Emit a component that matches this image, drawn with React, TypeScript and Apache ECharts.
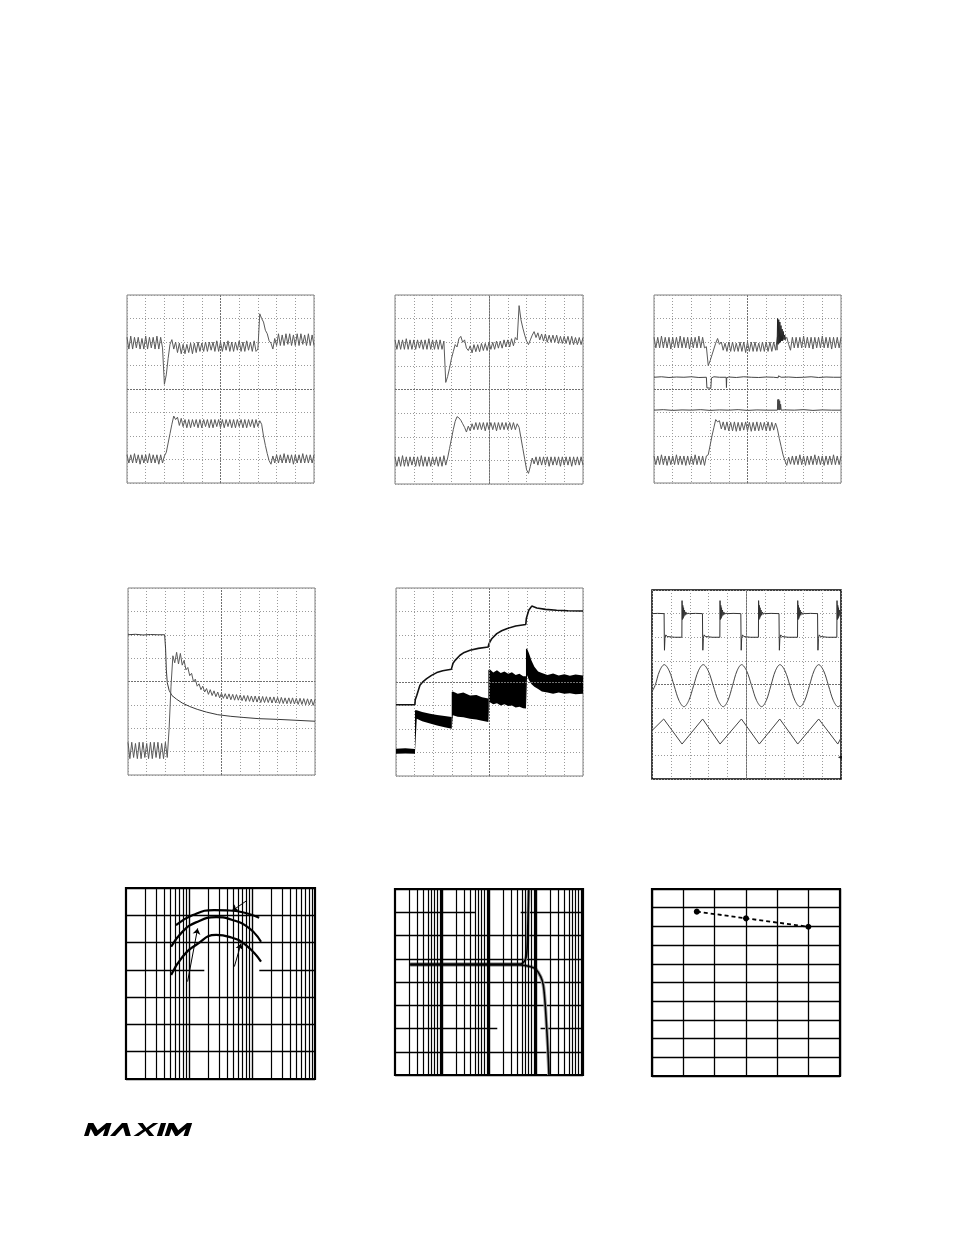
import React, { useEffect, useRef } from "react";
import * as echarts from "echarts";

// ---------- Panel 1 (scope: two rippled traces) ----------
const P1_TOP = [
  6.2,5.7,6.25,5.7,6.2,5.75,6.2,5.7,6.15,5.7,6.25,5.7,6.2,5.75,6.2,5.7,6.25,5.7,6.2,5.75,
  4.2,4.6,5.3,5.9,6.1,5.7,6.0,5.55,5.95,5.5,
  5.9,5.5,5.9,5.55,5.95,5.5,5.95,5.55,6.0,5.6,
  5.95,5.6,6.0,5.6,6.0,5.65,6.0,5.6,6.05,5.6,
  6.0,5.6,6.0,5.65,6.05,5.6,6.0,5.6,6.0,5.65,
  6.05,5.6,6.0,5.6,6.05,5.65,6.0,5.6,6.05,5.6,
  5.7,7.2,7.0,6.85,6.5,6.35,6.05,5.95,5.7,6.15,
  5.85,6.35,5.85,6.3,5.85,6.35,5.9,6.35,5.85,6.3,
  5.85,6.35,5.85,6.35,5.9,6.3,5.85,6.35,5.85,6.3,5.85,
];
const P1_BOT = [
  1.2,0.85,1.2,0.85,1.25,0.85,1.2,0.8,1.2,0.85,1.2,0.85,1.25,0.85,1.2,0.85,1.2,0.8,1.2,0.85,
  1.15,1.3,1.7,2.1,2.5,2.85,2.7,2.8,2.45,2.75,
  2.4,2.7,2.35,2.7,2.35,2.7,2.4,2.7,2.35,2.7,
  2.35,2.7,2.4,2.7,2.35,2.7,2.35,2.7,2.4,2.7,
  2.35,2.7,2.35,2.7,2.4,2.7,2.35,2.7,2.35,2.7,
  2.4,2.7,2.35,2.7,2.35,2.7,2.4,2.7,2.35,2.7,
  2.4,2.65,2.5,2.0,1.6,1.25,0.95,0.8,1.15,0.85,
  1.2,0.85,1.2,0.85,1.25,0.85,1.2,0.85,1.2,0.8,
  1.2,0.85,1.2,0.85,1.25,0.85,1.2,0.85,1.2,0.85,1.2,
];

// ---------- Panel 2 ----------
const P2_TOP = [
  6.1,5.7,6.1,5.7,6.1,5.7,6.15,5.7,6.1,5.7,6.1,5.7,6.1,5.75,6.1,5.7,6.1,5.7,6.15,5.7,6.1,5.7,6.1,5.7,6.1,5.7,6.05,
  4.3,4.55,4.9,5.3,5.6,5.9,5.8,6.15,6.25,6.0,6.1,5.75,5.65,
  5.85,5.55,5.9,5.6,5.9,5.6,5.95,5.65,5.95,5.65,
  6.0,5.7,6.0,5.7,6.05,5.75,6.05,5.75,6.1,5.8,
  6.1,5.8,6.15,5.85,6.2,6.1,
  7.55,6.95,6.6,6.3,6.05,5.9,6.1,6.3,6.45,6.2,6.4,6.1,
  6.35,6.05,6.35,6.0,6.3,6.0,6.3,6.0,6.3,5.95,6.25,5.95,
  6.25,5.95,6.25,5.9,6.25,5.9,6.2,5.9,6.2,5.9,6.2,
];
const P2_BOT = [
  1.15,0.75,1.15,0.75,1.2,0.75,1.15,0.75,1.15,0.8,1.15,0.75,1.15,0.75,1.2,0.75,1.15,0.75,1.15,0.75,1.15,0.8,1.15,0.75,1.15,0.75,1.2,0.8,
  1.1,1.5,1.9,2.3,2.65,2.85,2.8,2.7,2.55,2.4,2.2,2.45,
  2.25,2.55,2.3,2.6,2.3,2.6,2.3,2.6,2.25,2.6,
  2.3,2.6,2.3,2.6,2.25,2.6,2.3,2.6,2.3,2.6,
  2.3,2.6,2.3,2.6,2.3,2.55,
  2.4,1.95,1.5,1.05,0.6,0.45,0.75,1.1,0.85,1.15,0.8,1.15,
  0.8,1.15,0.8,1.15,0.75,1.15,0.8,1.15,0.8,1.15,0.75,1.15,
  0.8,1.15,0.8,1.15,0.75,1.15,0.8,1.15,0.8,1.15,0.8,
];

// ---------- Panel 3 ----------
const P3_TOP = [
  6.2,5.75,6.2,5.75,6.25,5.75,6.2,5.75,6.2,5.7,6.2,5.75,6.2,5.75,6.25,5.75,6.2,5.75,6.2,5.7,6.2,5.75,6.2,5.75,6.25,5.75,6.2,5.75,
  5.8,5.0,5.2,5.45,5.7,5.95,6.15,5.9,6.0,5.65,5.95,5.6,
  6.0,5.6,6.0,5.6,5.95,5.6,6.0,5.6,6.0,5.55,
  6.0,5.6,6.0,5.6,6.0,5.6,5.95,5.6,6.0,5.6,
  6.0,5.6,6.0,5.6,6.0,5.65,
  6.2,6.3,6.2,6.2,6.1,6.2,5.9,5.65,6.2,5.75,
  6.2,5.75,6.2,5.75,6.25,5.75,6.2,5.75,6.2,5.7,6.2,5.75,
  6.2,5.75,6.25,5.75,6.2,5.75,6.2,5.7,6.2,5.75,6.2,5.75,6.2,
];
const P3_BURST = [
  [65.8,5.65],[66.1,7.0],[66.4,5.9],[66.7,6.95],[67.0,5.95],[67.3,6.85],[67.6,6.0],[67.9,6.7],
  [68.2,6.05],[68.5,6.55],[68.8,6.05],[69.1,6.45],[69.5,6.1],[69.9,6.3],[70.3,6.1],
];
const P3_MID1 = [
  [0,4.5],[4,4.52],[8,4.49],[12,4.51],[16,4.5],[20,4.52],[24,4.49],[28.0,4.5],[28.3,4.05],[30.4,4.03],
  [30.7,4.47],[32,4.52],[35,4.5],[38.6,4.5],[38.75,4.06],[38.9,4.48],[40,4.51],[44,4.49],[48,4.52],
  [52,4.5],[56,4.49],[60,4.51],[64,4.5],[66.4,4.48],[66.6,4.56],[68,4.5],[72,4.51],[76,4.49],[80,4.5],
  [84,4.52],[88,4.49],[92,4.51],[96,4.5],[100,4.5],
];
const P3_MID2 = [
  [0,3.1],[5,3.12],[10,3.09],[15,3.11],[20,3.1],[25,3.12],[30,3.09],[35,3.11],[40,3.1],[45,3.12],
  [50,3.09],[55,3.11],[60,3.1],[66,3.1],[66.2,3.55],[66.45,3.12],[66.7,3.56],[66.95,3.1],[67.2,3.5],
  [67.45,3.12],[67.7,3.35],[68,3.1],[70,3.11],[75,3.1],[80,3.12],[85,3.09],[90,3.11],[95,3.1],[100,3.1],
];
const P3_BOT = [
  1.15,0.78,1.15,0.78,1.2,0.78,1.15,0.75,1.15,0.78,1.15,0.78,1.2,0.78,1.15,0.78,1.15,0.75,1.15,0.78,1.15,0.78,1.2,0.78,1.15,0.78,1.15,0.75,1.15,
  1.2,1.6,2.0,2.35,2.7,2.6,2.65,2.3,2.6,2.25,2.6,
  2.22,2.58,2.22,2.6,2.2,2.58,2.22,2.58,2.25,2.6,
  2.22,2.58,2.2,2.58,2.22,2.6,2.22,2.58,2.25,2.58,
  2.22,2.6,2.22,2.58,2.25,2.55,
  2.3,1.9,1.55,1.2,0.95,0.75,1.1,0.8,1.15,0.78,
  1.15,0.78,1.2,0.78,1.15,0.75,1.15,0.78,1.15,0.78,1.2,0.78,
  1.15,0.78,1.15,0.75,1.15,0.78,1.15,0.78,1.2,0.78,1.15,0.78,1.15,
];

// ---------- Panel 4 ----------
const P4_A = [
  [0,6.0],[4,6.02],[8,5.99],[12,6.01],[16,6.0],[19.6,6.0],[20.1,5.4],[20.5,4.5],[21,3.95],[22,3.62],
  [23.5,3.4],[26,3.24],[29,3.08],[33,2.93],[37,2.81],[42,2.69],[48,2.58],[55,2.51],[62,2.46],[70,2.41],
  [80,2.38],[90,2.34],[100,2.3],
];
const P4_B = [
  1.4,0.7,1.4,0.75,1.35,0.7,1.4,0.7,1.4,0.75,1.35,0.7,1.4,0.7,1.4,0.75,1.4,0.7,1.35,0.7,1.4,0.75,
  2.0,3.8,5.1,4.8,5.25,4.75,5.2,4.7,4.9,4.5,4.6,4.25,4.35,4.0,4.1,3.8,3.9,3.65,
  3.8,3.55,3.7,3.45,3.65,3.4,3.6,3.35,3.55,3.3,
  3.5,3.28,3.48,3.25,3.47,3.22,3.45,3.2,3.44,3.2,
  3.42,3.18,3.4,3.15,3.4,3.15,3.38,3.12,3.38,3.12,
  3.36,3.1,3.36,3.1,3.35,3.1,3.34,3.08,3.34,3.08,
  3.32,3.06,3.32,3.06,3.3,3.05,3.3,3.05,3.3,3.04,
  3.28,3.02,3.28,3.02,3.27,3.0,3.26,3.0,3.25,2.98,3.24,
];

// ---------- Panel 5 ----------
const P5_UPPER = [
  [0,3.03],[10.1,3.03],[10.3,3.25],[11.1,3.43],[12.8,3.86],[14.5,4.02],[16.4,4.14],[19,4.28],[21.8,4.4],
  [25,4.48],[29.6,4.54],[29.8,4.6],[30.5,4.8],[31.6,4.92],[34.2,5.14],[36.5,5.26],[39.6,5.35],[44,5.43],
  [49.3,5.49],[49.6,5.6],[50.3,5.72],[51.2,5.84],[53.9,6.06],[56.5,6.18],[59.2,6.27],[64,6.38],[69.4,6.45],
  [69.7,6.7],[71,7.05],[72.6,7.23],[75.3,7.15],[80,7.09],[85.9,7.05],[92,7.03],[100,7.02],
];
// bands: [x, top, bottom]
const P5_BAND1 = [[0,1.16,0.95],[5,1.18,0.96],[10.15,1.15,0.95]];
const P5_BAND2 = [[10.15,2.8,1.0],[11.1,2.8,2.44],[14,2.72,2.33],[18.2,2.65,2.23],[22,2.6,2.15],[26,2.55,2.07],[29.8,2.51,2.01]];
const P5_BAND3 = [[29.8,3.57,2.0],[30.4,3.6,2.58],[33,3.5,2.52],[36,3.55,2.5],[39.6,3.43,2.44],[43,3.45,2.4],[46,3.35,2.35],[49.4,3.3,2.3]];
const P5_BAND4 = [[49.4,4.5,2.3],[50,4.55,3.15],[52,4.4,3.05],[54,4.5,3.1],[56,4.38,3.0],[58,4.45,3.05],[60,4.35,2.98],[62,4.42,3.0],[64,4.3,2.92],[66,4.35,2.95],[68,4.25,2.88],[69.5,4.25,2.87]];
const P5_BAND5 = [[69.5,5.42,2.87],[70.1,5.42,4.3],[71,5.25,4.1],[72.5,4.9,3.9],[74,4.65,3.8],[76,4.45,3.7],[78,4.38,3.6],[81,4.3,3.55],[84,4.36,3.5],[87,4.28,3.55],[90,4.33,3.5],[93,4.27,3.52],[96,4.32,3.48],[100,4.28,3.5]];
const P5_BANDS = [P5_BAND1, P5_BAND2, P5_BAND3, P5_BAND4, P5_BAND5];

// ---------- Panel 6 ----------
const P6_SQUARE = [
  [0,7.0],[3,7.01],[6.4,7.0],[6.5,6.0],[6.6,5.45],[6.85,5.95],[7.3,6.1],[8.0,6.03],[12,6.0],[15.8,6.0],
  [15.9,7.55],[16.1,6.75],[16.3,7.35],[16.5,6.8],[16.7,7.25],[16.9,6.88],[17.2,7.15],[17.5,6.93],[17.9,7.07],[18.4,6.97],[19.0,7.02],[19.8,7.0],[23,7.01],[26.7,7.0],
  [26.8,6.0],[26.9,5.45],[27.15,5.95],[27.6,6.1],[28.3,6.03],[32,6.0],[35.9,6.0],
  [36.0,7.55],[36.2,6.75],[36.4,7.35],[36.6,6.8],[36.8,7.25],[37.0,6.88],[37.3,7.15],[37.6,6.93],[38.0,7.07],[38.5,6.97],[39.1,7.02],[39.9,7.0],[43,7.01],[47.0,7.0],
  [47.1,6.0],[47.2,5.45],[47.45,5.95],[47.9,6.1],[48.6,6.03],[52,6.0],[56.3,6.0],
  [56.4,7.55],[56.6,6.75],[56.8,7.35],[57.0,6.8],[57.2,7.25],[57.4,6.88],[57.7,7.15],[58.0,6.93],[58.4,7.07],[58.9,6.97],[59.5,7.02],[60.3,7.0],[63,7.01],[67.2,7.0],
  [67.3,6.0],[67.4,5.45],[67.65,5.95],[68.1,6.1],[68.8,6.03],[72,6.0],[77.0,6.0],
  [77.1,7.55],[77.3,6.75],[77.5,7.35],[77.7,6.8],[77.9,7.25],[78.1,6.88],[78.4,7.15],[78.7,6.93],[79.1,7.07],[79.6,6.97],[80.2,7.02],[81.0,7.0],[84,7.01],[87.6,7.0],
  [87.7,6.0],[87.8,5.45],[88.05,5.95],[88.5,6.1],[89.2,6.03],[93,6.0],[97.8,6.0],
  [97.9,7.55],[98.1,6.75],[98.3,7.35],[98.5,6.8],[98.7,7.25],[98.9,6.88],[99.2,7.15],[99.5,6.93],[99.8,7.07],[100,7.0],
];
const P6_SINE = [
  [0,3.7],[1.6,3.95],[4.05,4.58],[6.5,4.84],[9.1,4.58],[11.7,3.95],[14.3,3.32],[16.9,3.06],[19.45,3.32],
  [22.0,3.95],[24.55,4.58],[27.1,4.84],[29.75,4.58],[32.4,3.95],[35.05,3.32],[37.7,3.06],[40.15,3.32],
  [42.6,3.95],[45.0,4.58],[47.4,4.84],[50.05,4.58],[52.7,3.95],[55.35,3.32],[58.0,3.06],[60.45,3.32],
  [62.9,3.95],[65.3,4.58],[67.7,4.84],[70.35,4.58],[73.0,3.95],[75.65,3.32],[78.3,3.06],[80.8,3.32],
  [83.3,3.95],[85.75,4.58],[88.2,4.84],[90.8,4.58],[93.4,3.95],[95.95,3.32],[98.5,3.06],[100,3.15],
];
const P6_TRIANGLE = [
  [0,2.05],[6.2,2.54],[15.9,1.48],[26.8,2.54],[36.0,1.48],[47.3,2.54],[56.8,1.48],[67.6,2.54],
  [77.1,1.48],[88.2,2.54],[98.3,1.48],[100,1.74],
];
const P6_MARKER = [[99.4,0.92]];

// ---------- Panel 7 (log x, three arcs) ----------
const P7_CURVE_A = [[6.2,56.4],[11.5,60.1],[25,61.9],[39,61.8],[71,61.1],[130,59.1]];
const P7_CURVE_B = [[5.2,48.5],[7.9,54.0],[12.9,57.4],[27,59.3],[49,58.3],[91,55.2],[139,50.3]];
const P7_CURVE_C = [[5.2,38.1],[7.9,44.8],[12.9,49.1],[27,52.8],[43.6,52.1],[80,49.1],[139,43.0]];
const P7_ARROWS = [
  [[80.4,65.2],[48.2,61.6]],
  [[9.5,35.7],[13.7,55.2]],
  [[52.5,41.2],[67.1,49.7]],
];
const P7_BLANKS = [
  [[77.6,69.4],[518,62.7]],
  [[17.5,40.3],[130.6,35.1]],
  [[1.95,35.1],[14.6,30.2]],
];
const P7_MAJOR = [10, 100];
const P7_MINOR = [2,3,4,5,6,7,8,9,20,30,40,50,60,70,80,90,200,300,400,500,600,700,800,900];

// ---------- Panel 8 (log x, two curves) ----------
const P8_CURVE_1 = [[2.1,4.77],[470,4.77],[556,4.87],[622,5.09],[653,5.6],[676,6.74],[700,7.96]];
const P8_CURVE_2 = [[2.1,4.73],[470,4.73],[771,4.66],[985,4.56],[1259,4.23],[1429,3.87],[1553,3.15],[1690,2.01],[1800,1.0],[1890,0]];
const P8_BLANKS = [
  [[52,7.2],[472,6.09]],
  [[150,2.51],[1250,1.5]],
];
const P8_MAJOR = [10, 100, 1000];
const P8_MINOR = [2,3,4,5,6,7,8,9,20,30,40,50,60,70,80,90,200,300,400,500,600,700,800,900,2000,3000,4000,5000,6000,7000,8000,9000];

// ---------- Panel 9 (three points, dashed) ----------
const P9_POINTS = [[1.43,8.79],[3.0,8.43],[4.99,7.98]];

// ---------- Logo letters (units, height 10) ----------
const LOGO_M = [[0,10],[0,0],[4,0],[9,5.5],[14,0],[18,0],[18,10],[14.5,10],[14.5,4.5],[9.8,10],[8.2,10],[3.5,4.5],[3.5,10]];
const LOGO_A = [[0,10],[6,0],[10,0],[16,10],[12,10],[8,3.5],[4,10]];
const LOGO_X = [[0,0],[4,0],[8,3.8],[12,0],[16,0],[10.2,5],[16,10],[12,10],[8,6.2],[4,10],[0,10],[5.8,5]];
const LOGO_I = [[0,0],[4,0],[4,10],[0,10]];
const LOGO_LETTERS = [LOGO_M, LOGO_A, LOGO_X, LOGO_I, LOGO_M];
const LOGO_OFFSETS = [0, 20, 38, 56, 62];

// ---------- layout ----------
const GRIDS = [
  { left: 127, top: 295, width: 187, height: 188 },
  { left: 395, top: 295, width: 188, height: 189 },
  { left: 654, top: 295, width: 187, height: 188 },
  { left: 128, top: 588, width: 187, height: 187 },
  { left: 396, top: 588, width: 187, height: 188 },
  { left: 652, top: 590, width: 189, height: 189 },
  { left: 126, top: 888, width: 189, height: 191 },
  { left: 395, top: 889, width: 188, height: 186 },
  { left: 652, top: 889, width: 188, height: 187 },
];

const idx = (arr: number[]) => arr.map((v, i) => [i, v]);

function buildOption() {
  const grid = GRIDS.map((g, i) => ({
    ...g,
    show: true,
    backgroundColor: "#fff",
    borderColor: i < 5 ? "#808080" : "#000",
    borderWidth: i < 5 ? 1 : i === 5 ? 1.5 : 2.2,
    containLabel: false,
  }));

  const hidden = { axisLine: { show: false }, axisTick: { show: false }, axisLabel: { show: false } };
  const dotted = { show: true, lineStyle: { color: "#9a9a9a", type: [1, 2], width: 1 } };
  const solid = (w: number) => ({ show: true, lineStyle: { color: "#000", type: "solid", width: w } });

  const xAxis: any[] = [];
  const yAxis: any[] = [];
  for (let i = 0; i < 6; i++) {
    xAxis.push({ gridIndex: i, type: "value", min: 0, max: 100, interval: 10, ...hidden, splitLine: dotted });
    yAxis.push({ gridIndex: i, type: "value", min: 0, max: 8, interval: 1, ...hidden, splitLine: dotted });
  }
  xAxis.push({ gridIndex: 6, type: "log", logBase: 10, min: 1, max: 1000, ...hidden, splitLine: { show: false } });
  yAxis.push({ gridIndex: 6, type: "value", min: 0, max: 70, interval: 10, ...hidden, splitLine: solid(1.4) });
  xAxis.push({ gridIndex: 7, type: "log", logBase: 10, min: 1, max: 10000, ...hidden, splitLine: { show: false } });
  yAxis.push({ gridIndex: 7, type: "value", min: 0, max: 8, interval: 1, ...hidden, splitLine: solid(1.4) });
  xAxis.push({ gridIndex: 8, type: "value", min: 0, max: 6, interval: 1, ...hidden, splitLine: solid(1.3) });
  yAxis.push({ gridIndex: 8, type: "value", min: 0, max: 10, interval: 1, ...hidden, splitLine: solid(1.3) });

  const centerLines = {
    silent: true,
    symbol: ["none", "none"],
    label: { show: false },
    lineStyle: { color: "#707070", type: [2, 1], width: 1 },
    data: [{ xAxis: 50 }, { yAxis: 4 }],
  };

  const line = (gi: number, data: any[], color: string, width: number, extra: any = {}) => ({
    type: "line",
    xAxisIndex: gi,
    yAxisIndex: gi,
    data,
    showSymbol: false,
    symbol: "none",
    silent: true,
    lineStyle: { color, width },
    z: 3,
    ...extra,
  });

  const series: any[] = [];
  const trace = "#5a5a5a";

  // Panel 1
  series.push(line(0, idx(P1_TOP), trace, 1, { markLine: centerLines }));
  series.push(line(0, idx(P1_BOT), trace, 1));
  // Panel 2
  series.push(line(1, idx(P2_TOP), trace, 1, { markLine: centerLines }));
  series.push(line(1, idx(P2_BOT), trace, 1));
  // Panel 3
  series.push(line(2, idx(P3_TOP), trace, 1, { markLine: centerLines }));
  series.push(line(2, P3_BURST, "#222", 1));
  series.push(line(2, P3_MID1, "#444", 1));
  series.push(line(2, P3_MID2, "#444", 1));
  series.push(line(2, idx(P3_BOT), trace, 1));
  // Panel 4
  series.push(line(3, P4_A, "#3a3a3a", 1, { markLine: centerLines }));
  series.push(line(3, idx(P4_B), trace, 1));
  // Panel 5
  series.push({
    type: "custom",
    xAxisIndex: 4,
    yAxisIndex: 4,
    coordinateSystem: "cartesian2d",
    silent: true,
    z: 3,
    data: P5_BANDS.map((b) => [b[0][0], b[0][2]]),
    markLine: centerLines,
    renderItem: (params: any, api: any) => {
      const band = P5_BANDS[params.dataIndex];
      const top = band.map((p) => api.coord([p[0], p[1]]));
      const bot = band.slice().reverse().map((p) => api.coord([p[0], p[2]]));
      return { type: "polygon", shape: { points: top.concat(bot) }, style: { fill: "#000" } };
    },
  });
  series.push(line(4, P5_UPPER, "#111", 1.6));
  // Panel 6
  series.push(line(5, P6_SQUARE, "#333", 1, { markLine: centerLines }));
  series.push(line(5, P6_SINE, "#444", 1, { smooth: 0.35 }));
  series.push(line(5, P6_TRIANGLE, "#444", 1));
  series.push({
    type: "scatter",
    xAxisIndex: 5,
    yAxisIndex: 5,
    data: P6_MARKER,
    symbol: "triangle",
    symbolRotate: 90,
    symbolSize: 4,
    itemStyle: { color: "#000" },
    silent: true,
    z: 3,
  });

  // Panel 7
  const gridLines = (major: number[], minor: number[], minorW: number, majorW: number) => ({
    silent: true,
    symbol: ["none", "none"],
    label: { show: false },
    data: [
      ...minor.map((v) => ({ xAxis: v, lineStyle: { color: "#000", width: minorW, type: "solid" } })),
      ...major.map((v) => ({ xAxis: v, lineStyle: { color: "#000", width: majorW, type: "solid" } })),
    ],
  });
  const invisible = { lineStyle: { opacity: 0, width: 0 } };
  series.push(line(6, P7_CURVE_C, "#000", 0, { ...invisible, z: 1, markLine: gridLines(P7_MAJOR, P7_MINOR, 1.2, 1.4) }));
  series.push(
    line(6, P7_CURVE_C, "#000", 0, {
      ...invisible,
      z: 2,
      markArea: {
        silent: true,
        itemStyle: { color: "#fff" },
        data: P7_BLANKS.map((r) => [{ xAxis: r[0][0], yAxis: r[0][1] }, { xAxis: r[1][0], yAxis: r[1][1] }]),
      },
    })
  );
  series.push(
    line(6, P7_CURVE_A, "#000", 2.2, {
      smooth: 0.5,
      markLine: {
        silent: true,
        symbol: ["none", "arrow"],
        symbolSize: 6,
        label: { show: false },
        lineStyle: { color: "#000", width: 1, type: "solid" },
        data: P7_ARROWS.map((a) => [{ coord: a[0] }, { coord: a[1] }]),
      },
    })
  );
  series.push(line(6, P7_CURVE_B, "#000", 2.2, { smooth: 0.5 }));
  series.push(line(6, P7_CURVE_C, "#000", 2.2, { smooth: 0.5 }));

  // Panel 8
  series.push(line(7, P8_CURVE_1, "#000", 0, { ...invisible, z: 1, markLine: gridLines(P8_MAJOR, P8_MINOR, 1.2, 2.4) }));
  series.push(
    line(7, P8_CURVE_1, "#000", 0, {
      ...invisible,
      z: 2,
      markArea: {
        silent: true,
        itemStyle: { color: "#fff" },
        data: P8_BLANKS.map((r) => [{ xAxis: r[0][0], yAxis: r[0][1] }, { xAxis: r[1][0], yAxis: r[1][1] }]),
      },
    })
  );
  series.push(line(7, P8_CURVE_1, "#a0a0a0", 3.5, { smooth: 0.3 }));
  series.push(line(7, P8_CURVE_2, "#a0a0a0", 3.5, { smooth: 0.3 }));
  series.push(line(7, P8_CURVE_1, "#000", 1.6, { smooth: 0.3 }));
  series.push(line(7, P8_CURVE_2, "#000", 1.6, { smooth: 0.3 }));

  // Panel 9
  series.push({
    type: "line",
    xAxisIndex: 8,
    yAxisIndex: 8,
    data: P9_POINTS,
    symbol: "circle",
    symbolSize: 6,
    showSymbol: true,
    silent: true,
    itemStyle: { color: "#000" },
    lineStyle: { color: "#000", width: 1.8, type: [4, 3] },
    z: 3,
  });

  // Logo
  const S = 1.3, X0 = 84, Y0 = 1123, SLANT = 0.32;
  const graphic = LOGO_LETTERS.map((pts, li) => ({
    type: "polygon",
    shape: {
      points: pts.map((p) => [X0 + (p[0] + LOGO_OFFSETS[li] + (10 - p[1]) * SLANT) * S, Y0 + p[1] * S]),
    },
    style: { fill: "#000" },
    silent: true,
  }));

  return {
    animation: false,
    backgroundColor: "#fff",
    grid,
    xAxis,
    yAxis,
    series,
    graphic,
  };
}

export default function App() {
  const ref = useRef<HTMLDivElement>(null);
  useEffect(() => {
    if (!ref.current) return;
    const chart = echarts.init(ref.current, null, { renderer: "svg" });
    chart.setOption(buildOption() as any);
    return () => chart.dispose();
  }, []);
  return (
    <div
      ref={ref}
      style={{ position: "absolute", left: 0, top: 0, width: 954, height: 1235, background: "#fff" }}
    />
  );
}
